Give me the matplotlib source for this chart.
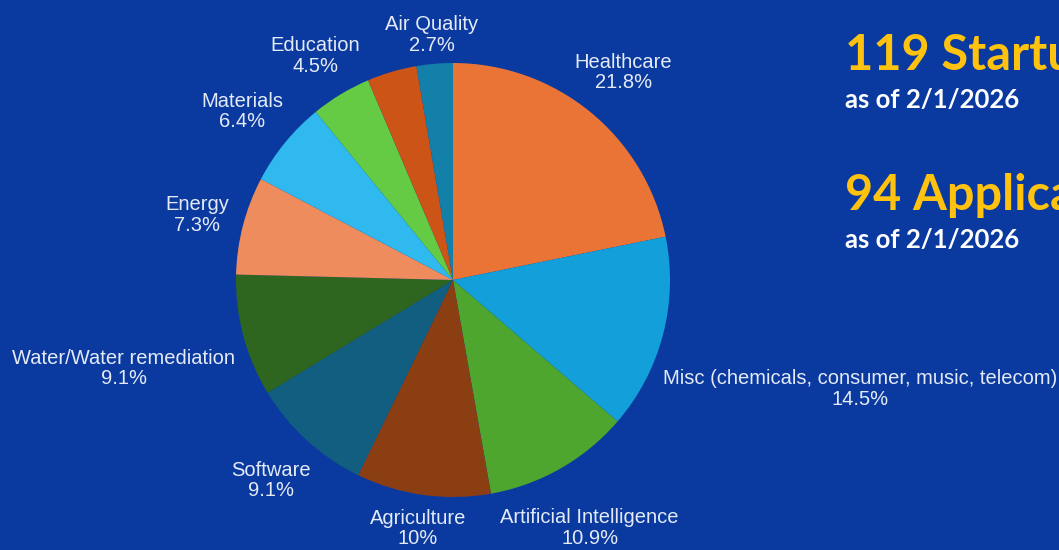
import matplotlib
matplotlib.use("Agg")
import matplotlib.pyplot as plt
import numpy as np

# slice data, clockwise from 12 o'clock
categories = ["Healthcare", "Misc (chemicals, consumer, music, telecom)",
              "Artificial Intelligence", "Agriculture", "Software",
              "Water/Water remediation", "Energy", "Materials", "Education",
              "", "Air Quality"]
shares = [21.8, 14.5, 10.9, 10, 9.1, 9.1, 7.3, 6.4, 4.5, 3.7, 2.7]
colors = ["#e97436", "#139fd9", "#4ea62f", "#8c3e13", "#115e80", "#2e651f",
          "#ee8c5d", "#2fb9ef", "#65ca44", "#cc5416", "#1280a8"]

startups = "119 Startups"
applications = "94 Applications"
as_of = "as of 2/1/2026"

bg = "#0a3a9f"
label_color = "#e4eaf6"

# small pixel nudges for the outside labels (x right, y down)
nudge = [(-4, -12), (-3, 32), (-20, 31), (3, 4), (-2, 13), (-2, 10),
         (-5, 12), (-3, -5), (3, -10), (0, 0), (2, 1)]

W, H = 1059, 550
fig = plt.figure(figsize=(W / 100, H / 100), dpi=100, facecolor=bg)

# pie centre (453, 280) px, radius 217 px
R = 217
cx, cy = 453, H - 280
ax = fig.add_axes([(cx - R) / W, (cy - R) / H, 2 * R / W, 2 * R / H])
ax.set_facecolor(bg)
wedges, _ = ax.pie(shares, colors=colors, startangle=90, counterclock=False,
                   radius=1, wedgeprops=dict(linewidth=0))
ax.set_xlim(-1, 1)
ax.set_ylim(-1, 1)
ax.set_axis_off()

renderer = fig.canvas.get_renderer()
gap = 10 / R
for w, name, v, (nx, ny) in zip(wedges, categories, shares, nudge):
    if not name:
        continue
    mid = np.deg2rad((w.theta1 + w.theta2) / 2)
    ux, uy = np.cos(mid), np.sin(mid)
    t = ax.text(ux * (1 + gap), uy * (1 + gap), f"{name}\n{v:g}%",
                ha="center", va="center", ma="center", color=label_color,
                fontsize=14.5, family="Liberation Sans", clip_on=False,
                linespacing=1.1)
    bb = t.get_window_extent(renderer)
    dx = (bb.width / 2 * ux + nx) / R
    dy = (np.sign(uy) * bb.height / 2 - ny) / R
    t.set_position((ux * (1 + gap) + dx, uy * (1 + gap) + dy))

# headline numbers on the right
x0 = 845 / W
fig.text(x0, 1 - 70 / H, startups, color="#ffc20e", fontsize=35,
         fontweight="bold", family="Lato", va="baseline")
fig.text(x0, 1 - 108 / H, as_of, color="white", fontsize=18.5,
         fontweight="bold", family="Lato", va="baseline")
fig.text(x0, 1 - 210 / H, applications, color="#ffc20e", fontsize=35,
         fontweight="bold", family="Lato", va="baseline")
fig.text(x0, 1 - 248 / H, as_of, color="white", fontsize=18.5,
         fontweight="bold", family="Lato", va="baseline")

fig.savefig("out.png", dpi=100, facecolor=bg)
